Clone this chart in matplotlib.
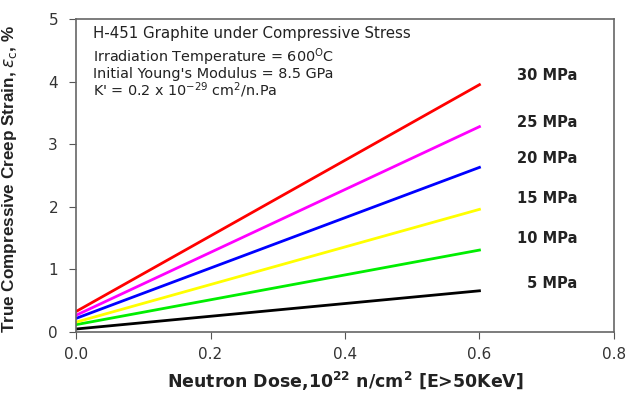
import matplotlib
matplotlib.use("Agg")
import matplotlib.pyplot as plt

plt.rcParams['font.family'] = ['DejaVu Sans']
plt.rcParams['mathtext.fontset'] = 'dejavusans'

# dose range and strain at start / end of each line
dose = [0.0, 0.6]
stress = ["5 MPa", "10 MPa", "15 MPa", "20 MPa", "25 MPa", "30 MPa"]
strain_start = [0.05, 0.12, 0.16, 0.22, 0.27, 0.33]
strain_end = [0.66, 1.31, 1.96, 2.63, 3.28, 3.95]
label_y = [0.78, 1.49, 2.14, 2.77, 3.34, 4.10]
colors = ['black', '#00ee00', '#ffff00', '#0000ff', '#ff00ff', '#ff0000']

fig = plt.figure(figsize=(6.29, 3.94), dpi=100)
ax = fig.add_axes([0.121, 0.157, 0.855, 0.795])

for i in range(len(stress)):
    ax.plot(dose, [strain_start[i], strain_end[i]], color=colors[i], lw=2)
    ax.text(0.746, label_y[i], stress[i], ha='right', va='center',
            fontsize=10.5, fontweight='bold', color='#222222')

ax.set_xlim(0, 0.8)
ax.set_ylim(0, 5)
ax.set_xticks([0.0, 0.2, 0.4, 0.6, 0.8])
ax.set_xticklabels(['0.0', '0.2', '0.4', '0.6', '0.8'])
ax.set_yticks([0, 1, 2, 3, 4, 5])
ax.tick_params(labelsize=11, labelcolor='#333333', color='#555555', length=5)
ax.tick_params(axis='x', pad=6)
ax.tick_params(axis='y', pad=8)
for s in ax.spines.values():
    s.set_color('#666666')
    s.set_linewidth(1.2)

tc = '#222222'
fs = 10.4
ax.text(0.025, 4.70, "H-451 Graphite under Compressive Stress", fontsize=10.8, color=tc)
ax.text(0.025, 4.32, "Irradiation Temperature = 600$^{\\rm O}$C", fontsize=fs, color=tc)
ax.text(0.025, 4.05, "Initial Young's Modulus = 8.5 GPa", fontsize=fs, color=tc)
ax.text(0.025, 3.77, "K' = 0.2 x 10$^{-29}$ cm$^{2}$/n.Pa", fontsize=fs, color=tc)

ax.set_xlabel("Neutron Dose,10$^{\\bf 22}$ n/cm$^{\\bf 2}$ [E>50KeV]", fontsize=12.5,
              fontweight='bold', color=tc)
ax.xaxis.set_label_coords(0.5, -0.158)
ax.xaxis.label.set_va('center')

ax.set_ylabel("True Compressive Creep Strain, $\\varepsilon_{\\rm c}$, %", fontsize=12.3,
              fontweight='bold', color=tc, family='Liberation Sans')
ax.yaxis.set_label_coords(-0.123, 0.49)
ax.yaxis.label.set_va('center')

fig.savefig("out.png", dpi=100)
